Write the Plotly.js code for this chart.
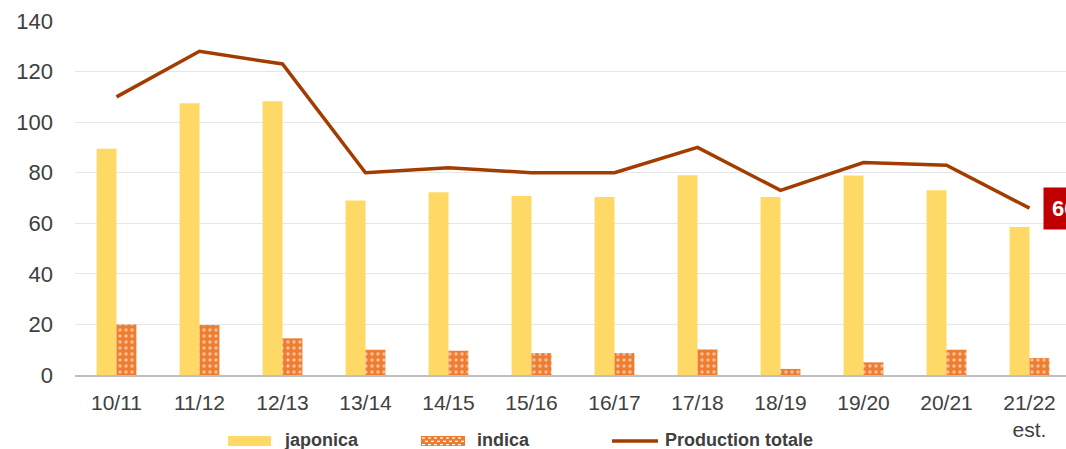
<!DOCTYPE html>
<html><head><meta charset="utf-8">
<script src="https://cdn.plot.ly/plotly-3.0.1.min.js"></script>
<style>html,body{margin:0;padding:0;overflow:hidden;background:#fff;}#chart{width:1071px;height:449px;}</style>
</head><body><div id="chart"></div>
<script>
const categories = ["10/11","11/12","12/13","13/14","14/15","15/16","16/17","17/18","18/19","19/20","20/21","21/22<br>est."];
const japonica = [89.5,107.5,108.3,69,72.3,70.8,70.4,79,70.4,78.9,73.1,58.5];
const indica = [20,19.8,14.5,10,9.6,8.7,8.7,10.1,2.4,5,10,6.7];
const production = [110,128,123,80,82,80,80,90,73,84,83,66];
const lastLabel = "66";
const seriesNames = ["japonica","indica","Production totale"];

const FONT = "Liberation Sans, Arial, sans-serif";
const YELLOW = '#FFD966', ORANGE = '#ED7D31', LINEC = '#A33C00';
const W = 1071, H = 449, ML = 75, MR = 0, MT = 21, MB = 74;
const PW = W - ML - MR, PH = H - MT - MB;
// pixel -> paper helpers for the legend placement
const px = v => (v - ML) / PW;
const py = v => (H - MB - v) / PH;

const traces = [
  {type:'bar', name:seriesNames[0], x:categories, y:japonica, marker:{color:YELLOW}, hoverinfo:'skip'},
  {type:'bar', name:seriesNames[1], x:categories, y:indica,
   marker:{color:ORANGE, pattern:{shape:'.', fillmode:'overlay', fgcolor:'#FFFFFF', size:6, solidity:0.25}}, hoverinfo:'skip'},
  {type:'scatter', mode:'lines', name:seriesNames[2], x:categories, y:production,
   line:{color:LINEC, width:3.5}, hoverinfo:'skip'}
];

const shapes = [];
const annotations = [];
// legend: japonica
shapes.push({type:'rect', xref:'paper', yref:'paper', x0:px(228), x1:px(271), y0:py(446), y1:py(436), fillcolor:YELLOW, line:{width:0}});
// indica swatch with white dashes
shapes.push({type:'rect', xref:'paper', yref:'paper', x0:px(421), x1:px(465), y0:py(446), y1:py(436), fillcolor:ORANGE, line:{width:0}});
for (let r = 0; r < 3; r++) {
  const yy = 438 + r * 3.3;
  const off = (r % 2) ? 3 : 0;
  for (let xx = 422 + off; xx + 3 <= 465; xx += 6) {
    shapes.push({type:'line', xref:'paper', yref:'paper', x0:px(xx), x1:px(xx + 3), y0:py(yy), y1:py(yy), line:{color:'#FFFFFF', width:1.2}});
  }
}
// line swatch
shapes.push({type:'line', xref:'paper', yref:'paper', x0:px(612), x1:px(658), y0:py(441), y1:py(441), line:{color:LINEC, width:3.5}});
const legendText = [[seriesNames[0], 282], [seriesNames[1], 475], [seriesNames[2], 663]];
legendText.forEach(([t, x]) => annotations.push({xref:'paper', yref:'paper', x:px(x), y:py(440), xanchor:'left', yanchor:'middle',
  text:'<b>'+t+'</b>', showarrow:false, font:{family:FONT, size:18, color:'#404040'}}));
// end label
annotations.push({x:categories.length - 1, y:production[production.length-1], xref:'x', yref:'y',
  text:'<b>'+lastLabel+'</b>', showarrow:false, xanchor:'left', yanchor:'middle', xshift:13,
  bgcolor:'#C00000', font:{color:'#FFFFFF', size:22, family:FONT}, borderpad:8});

const layout = {
  width:W, height:H,
  margin:{l:ML, r:MR, t:MT, b:MB, autoexpand:false},
  paper_bgcolor:'#fff', plot_bgcolor:'#fff',
  barmode:'group', bargap:0.52, bargroupgap:0,
  font:{family:FONT, color:'#404040', size:21},
  showlegend:false,
  xaxis:{type:'category', range:[-0.5, categories.length - 0.5], autorange:false, showgrid:false, showline:true,
    linecolor:'#BFBFBF', linewidth:1.5, automargin:false,
    ticks:'', tickfont:{size:21, color:'#404040'}, ticklabelstandoff:8, fixedrange:true},
  yaxis:{range:[0,140], autorange:false, dtick:20, showgrid:true, gridcolor:'#E6E6E6', gridwidth:1, zeroline:false, automargin:false,
    ticks:'', tickfont:{size:22, color:'#404040'}, ticklabelstandoff:21, fixedrange:true},
  shapes:shapes,
  annotations:annotations
};
Plotly.newPlot('chart', traces, layout, {displayModeBar:false, staticPlot:true});
</script></body></html>
